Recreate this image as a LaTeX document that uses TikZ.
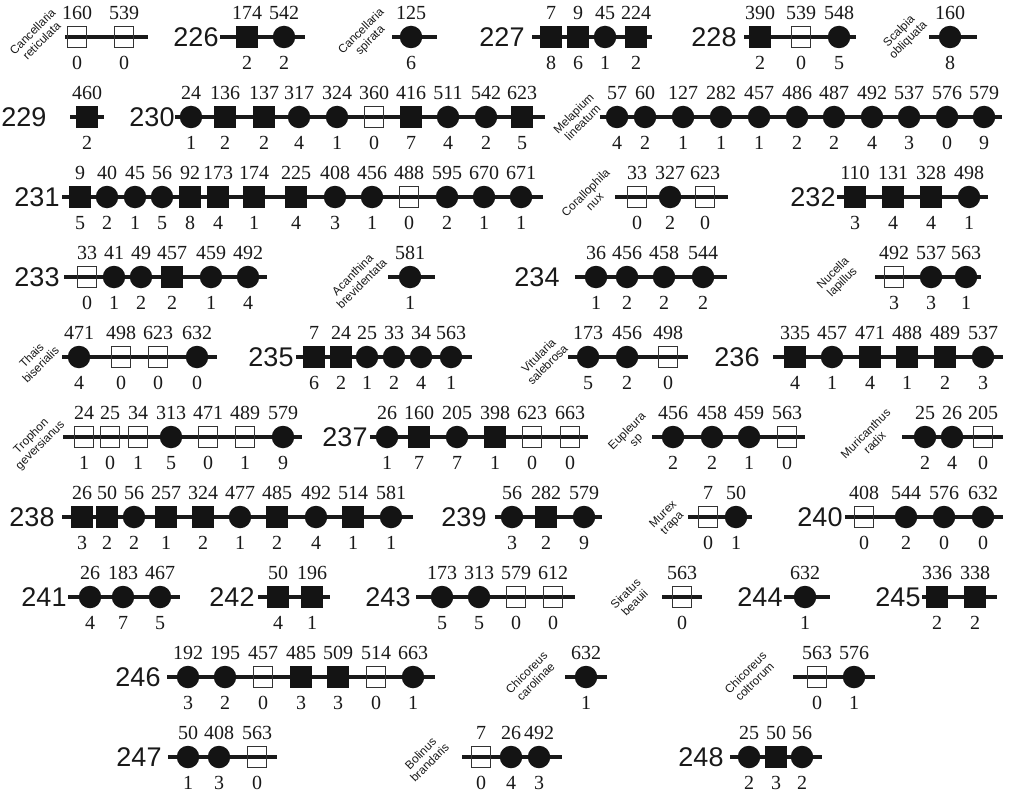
\documentclass[tikz,border=0pt]{standalone}
\usepackage{fontspec}
\setmainfont{Liberation Serif}
\setsansfont{Liberation Sans}
\tikzset{
  bar/.style={line width=3.3pt, color=black!90},
  fsq/.style={rectangle, fill=black!92, minimum width=21.5pt, minimum height=21.5pt, inner sep=0pt},
  esq/.style={rectangle, draw=black!80, line width=0.9pt, minimum width=19pt, minimum height=21pt, inner sep=0pt},
  fci/.style={circle, fill=black!92, minimum size=22.5pt, inner sep=0pt},
  toplab/.style={font=\fontsize{20}{20}\selectfont, inner sep=0pt, text=black!90},
  botlab/.style={font=\fontsize{20}{20}\selectfont, inner sep=0pt, text=black!90},
  idl/.style={font=\sffamily\fontsize{27}{27}\selectfont, inner sep=0pt, text=black!90},
  sp/.style={font=\sffamily\fontsize{11.8}{12.8}\selectfont, rotate=45, align=center, inner sep=0pt, text=black!90}
}
\newcommand\mkchain[5]{%
  \coordinate (#1L) at (#3,#2);
  \coordinate (#1R) at (#4,#2);
  \draw[bar] (#1L) -- (#1R);
  \foreach \mx/\mty/\mtop/\mbot [count=\mi] in {#5}{%
    \node[\mty] (#1m\mi) at (\mx,#2) {};
    \node[toplab] (#1t\mi) at (\mx,#2-24) {\mtop};
    \node[botlab] (#1b\mi) at (\mx,#2+26) {\mbot};
  }%
}
\begin{document}
\begin{tikzpicture}[x=1pt,y=-1pt]
\useasboundingbox (0,0) rectangle (1009,797);
% Row 1
\node[sp] (sA) at (37,36) {Cancellaria\\reticulata};
\mkchain{A}{37}{65}{148}{77/esq/160/0, 124/esq/539/0}
\node[idl] (iB) at (196,37) {226};
\mkchain{B}{37}{220}{305}{247/fsq/174/2, 284/fci/542/2}
\node[sp] (sC) at (366,36) {Cancellaria\\spirata};
\mkchain{C}{37}{392}{437}{411/fci/125/6}
\node[idl] (iD) at (502,37) {227};
\mkchain{D}{37}{532}{652}{551/fsq/7/8, 578/fsq/9/6, 605/fci/45/1, 636/fsq/224/2}
\node[idl] (iE) at (714,37) {228};
\mkchain{E}{37}{744}{856}{760/fsq/390/2, 801/esq/539/0, 839/fci/548/5}
\node[sp] (sF) at (904,36) {Scalpia\\obliquata};
\mkchain{F}{37}{929}{977}{950/fci/160/8}
% Row 2
\node[idl] (iG) at (24,117) {229};
\mkchain{G}{117}{70}{104}{87/fsq/460/2}
\node[idl] (iH) at (152,117) {230};
\mkchain{H}{117}{175}{545}{191/fci/24/1, 225/fsq/136/2, 264/fsq/137/2, 299/fci/317/4, 337/fci/324/1, 374/esq/360/0, 411/fsq/416/7, 448/fci/511/4, 486/fci/542/2, 522/fsq/623/5}
\node[sp] (sI) at (578,118) {Melapium\\lineatum};
\mkchain{I}{117}{600}{1002}{617/fci/57/4, 645/fci/60/2, 683/fci/127/1, 721/fci/282/1, 759/fci/457/1, 797/fci/486/2, 834/fci/487/2, 872/fci/492/4, 909/fci/537/3, 947/fci/576/0, 984/fci/579/9}
% Row 3
\node[idl] (iJ) at (37,197) {231};
\mkchain{J}{197}{62}{543}{80/fsq/9/5, 107/fci/40/2, 135/fci/45/1, 162/fci/56/5, 190/fsq/92/8, 218/fsq/173/4, 254/fsq/174/1, 296/fsq/225/4, 335/fci/408/3, 372/fci/456/1, 409/esq/488/0, 447/fci/595/2, 484/fci/670/1, 521/fci/671/1}
\node[sp] (sK) at (590,197) {Corallophila\\nux};
\mkchain{K}{197}{615}{728}{637/esq/33/0, 670/fci/327/2, 705/esq/623/0}
\node[idl] (iL) at (813,197) {232};
\mkchain{L}{197}{837}{988}{855/fsq/110/3, 893/fsq/131/4, 931/fsq/328/4, 969/fci/498/1}
% Row 4
\node[idl] (iM) at (37,277) {233};
\mkchain{M}{277}{64}{267}{87/esq/33/0, 114/fci/41/1, 141/fci/49/2, 172/fsq/457/2, 211/fci/459/1, 248/fci/492/4}
\node[sp] (sN) at (357,279) {Acanthina\\brevidentata};
\mkchain{N}{277}{388}{435}{410/fci/581/1}
\node[idl] (iO) at (537,277) {234};
\mkchain{O}{277}{575}{727}{596/fci/36/1, 627/fci/456/2, 664/fci/458/2, 703/fci/544/2}
\node[sp] (sP) at (838,278) {Nucella\\lapillus};
\mkchain{P}{277}{875}{981}{894/esq/492/3, 931/fci/537/3, 966/fci/563/1}
% Row 5
\node[sp] (sQ) at (36,360) {Thais\\biserialis};
\mkchain{Q}{357}{62}{217}{79/fci/471/4, 121/esq/498/0, 158/esq/623/0, 197/fci/632/0}
\node[idl] (iR) at (271,357) {235};
\mkchain{R}{357}{296}{472}{314/fsq/7/6, 341/fsq/24/2, 367/fci/25/1, 394/fci/33/2, 421/fci/34/4, 451/fci/563/1}
\node[sp] (sS) at (543,360) {Vitularia\\salebrosa};
\mkchain{S}{357}{568}{688}{588/fci/173/5, 627/fci/456/2, 668/esq/498/0}
\node[idl] (iT) at (737,357) {236};
\mkchain{T}{357}{773}{1003}{795/fsq/335/4, 832/fci/457/1, 870/fsq/471/4, 907/fsq/488/1, 945/fsq/489/2, 983/fci/537/3}
% Row 6
\node[sp] (sU) at (36,441) {Trophon\\geversianus};
\mkchain{U}{437}{63}{302}{84/esq/24/1, 110/esq/25/0, 138/esq/34/1, 171/fci/313/5, 208/esq/471/0, 245/esq/489/1, 283/fci/579/9}
\node[idl] (iV) at (345,437) {237};
\mkchain{V}{437}{370}{588}{387/fci/26/1, 419/fsq/160/7, 457/fci/205/7, 495/fsq/398/1, 532/esq/623/0, 570/esq/663/0}
\node[sp] (sW) at (632,436) {Eupleura\\sp};
\mkchain{W}{437}{652}{805}{673/fci/456/2, 712/fci/458/2, 749/fci/459/1, 787/esq/563/0}
\node[sp] (sX) at (870,438) {Muricanthus\\radix};
\mkchain{X}{437}{902}{1003}{925/fci/25/2, 952/fci/26/4, 983/esq/205/0}
% Row 7
\node[idl] (iY) at (32,517) {238};
\mkchain{Y}{517}{62}{413}{82/fsq/26/3, 107/fsq/50/2, 134/fci/56/2, 166/fsq/257/1, 203/fsq/324/2, 240/fci/477/1, 277/fsq/485/2, 316/fci/492/4, 353/fsq/514/1, 391/fci/581/1}
\node[idl] (iZ) at (464,517) {239};
\mkchain{Z}{517}{495}{602}{512/fci/56/3, 546/fsq/282/2, 584/fci/579/9}
\node[sp] (sAA) at (668,519) {Murex\\trapa};
\mkchain{AA}{517}{688}{752}{708/esq/7/0, 736/fci/50/1}
\node[idl] (iAB) at (820,517) {240};
\mkchain{AB}{517}{845}{1003}{864/esq/408/0, 906/fci/544/2, 944/fci/576/0, 983/fci/632/0}
% Row 8
\node[idl] (iAC) at (44,597) {241};
\mkchain{AC}{597}{68}{180}{90/fci/26/4, 123/fci/183/7, 160/fci/467/5}
\node[idl] (iAD) at (232,597) {242};
\mkchain{AD}{597}{258}{330}{278/fsq/50/4, 312/fsq/196/1}
\node[idl] (iAE) at (388,597) {243};
\mkchain{AE}{597}{416}{575}{442/fci/173/5, 479/fci/313/5, 516/esq/579/0, 553/esq/612/0}
\node[sp] (sAF) at (630,598) {Siratus\\beauii};
\mkchain{AF}{597}{662}{702}{682/esq/563/0}
\node[idl] (iAG) at (760,597) {244};
\mkchain{AG}{597}{784}{830}{805/fci/632/1}
\node[idl] (iAH) at (898,597) {245};
\mkchain{AH}{597}{922}{997}{937/fsq/336/2, 975/fsq/338/2}
% Row 9
\node[idl] (iAI) at (138,677) {246};
\mkchain{AI}{677}{167}{435}{188/fci/192/3, 225/fci/195/2, 263/esq/457/0, 301/fsq/485/3, 338/fsq/509/3, 376/esq/514/0, 413/fci/663/1}
\node[sp] (sAJ) at (531,677) {Chicoreus\\carolinae};
\mkchain{AJ}{677}{565}{607}{586/fci/632/1}
\node[sp] (sAK) at (750,677) {Chicoreus\\coltrorum};
\mkchain{AK}{677}{793}{875}{817/esq/563/0, 854/fci/576/1}
% Row 10
\node[idl] (iAL) at (139,757) {247};
\mkchain{AL}{757}{168}{277}{188/fci/50/1, 219/fci/408/3, 257/esq/563/0}
\node[sp] (sAM) at (425,758) {Bolinus\\brandaris};
\mkchain{AM}{757}{462}{562}{481/esq/7/0, 511/fci/26/4, 539/fci/492/3}
\node[idl] (iAN) at (701,757) {248};
\mkchain{AN}{757}{730}{822}{749/fci/25/2, 776/fsq/50/3, 802/fci/56/2}
\end{tikzpicture}
\end{document}
